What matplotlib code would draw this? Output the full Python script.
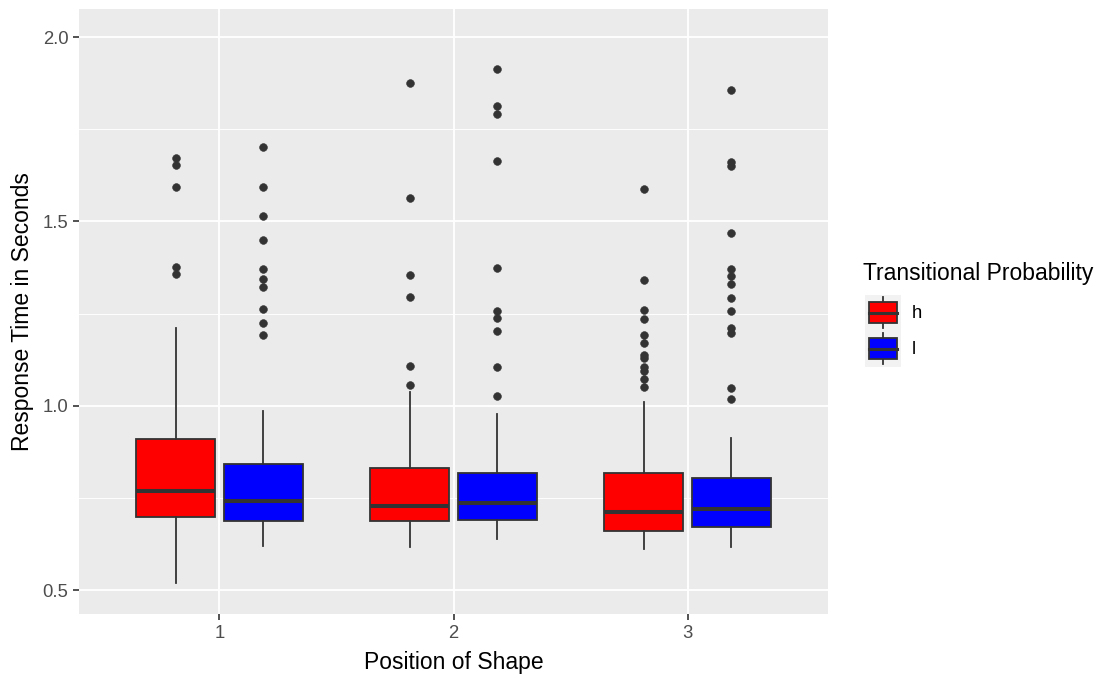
import matplotlib
matplotlib.use("Agg")
import matplotlib.pyplot as plt
from matplotlib.patches import Rectangle, Patch
from matplotlib.lines import Line2D
from matplotlib.legend_handler import HandlerBase
from matplotlib.ticker import FixedLocator

plt.rcParams['font.family'] = ['Liberation Sans', 'DejaVu Sans']

# ---------------- data ----------------
positions = [1, 2, 3]
x_labels = ["1", "2", "3"]
series = ["h", "l"]
series_colors = ["#FF0000", "#0000FF"]

h_q1 = [0.697, 0.687, 0.660]
h_med = [0.768, 0.728, 0.712]
h_q3 = [0.910, 0.830, 0.818]
h_lo = [0.518, 0.618, 0.610]
h_hi = [1.210, 1.038, 1.011]
h_out = [
    [1.671, 1.653, 1.592, 1.377, 1.356],
    [1.875, 1.563, 1.354, 1.294, 1.109, 1.056],
    [1.588, 1.340, 1.259, 1.236, 1.192, 1.170, 1.138, 1.130, 1.105, 1.095, 1.073, 1.052],
]

l_q1 = [0.688, 0.691, 0.672]
l_med = [0.742, 0.737, 0.720]
l_q3 = [0.841, 0.817, 0.804]
l_lo = [0.619, 0.639, 0.618]
l_hi = [0.986, 0.978, 0.913]
l_out = [
    [1.701, 1.592, 1.514, 1.449, 1.372, 1.344, 1.322, 1.261, 1.223, 1.192],
    [1.914, 1.814, 1.791, 1.663, 1.373, 1.257, 1.238, 1.203, 1.105, 1.027],
    [1.857, 1.662, 1.651, 1.469, 1.372, 1.353, 1.331, 1.292, 1.256, 1.211, 1.198, 1.048, 1.017],
]

y_ticks = [0.5, 1.0, 1.5, 2.0]
y_tick_labels = ["0.5", "1.0", "1.5", "2.0"]
y_minor = [0.75, 1.25, 1.75]

x_title = "Position of Shape"
y_title = "Response Time in Seconds"
legend_title = "Transitional Probability"

# ---------------- styling ----------------
W, H = 1113, 679
DARK = "#333333"
fig = plt.figure(figsize=(W / 100, H / 100), dpi=100)
ax = fig.add_axes([79 / W, 1 - 614 / H, (828 - 79) / W, (614 - 9) / H])
ax.set_facecolor("#EBEBEB")
for s in ax.spines.values():
    s.set_visible(False)

ax.set_xlim(0.4, 3.6)
ax.set_ylim(0.435, 2.076)

# grid
ax.set_axisbelow(True)
ax.yaxis.set_major_locator(FixedLocator(y_ticks))
ax.yaxis.set_minor_locator(FixedLocator(y_minor))
ax.set_yticklabels(y_tick_labels)
ax.set_xticks(positions)
ax.set_xticklabels(x_labels)
ax.grid(which="major", color="white", linewidth=1.3)
ax.grid(which="minor", axis="y", color="white", linewidth=0.65)
ax.tick_params(axis="both", which="major", length=4, width=1.2, color=DARK,
               labelcolor="#4D4D4D", labelsize=13.3)
ax.tick_params(axis="x", pad=4.0)
ax.tick_params(axis="y", pad=3.5)
ax.tick_params(which="minor", length=0)

box_w = 0.3375
offsets = [-0.1875, 0.1875]
all_stats = [
    (h_q1, h_med, h_q3, h_lo, h_hi, h_out),
    (l_q1, l_med, l_q3, l_lo, l_hi, l_out),
]
for si, (q1, med, q3, lo, hi, out) in enumerate(all_stats):
    stats = []
    for i in range(len(positions)):
        stats.append(dict(med=med[i], q1=q1[i], q3=q3[i], whislo=lo[i],
                          whishi=hi[i], fliers=out[i]))
    pos = [p + offsets[si] for p in positions]
    ax.bxp(stats, positions=pos, widths=box_w, patch_artist=True,
           showcaps=False, manage_ticks=False,
           boxprops=dict(facecolor=series_colors[si], edgecolor=DARK, linewidth=1.3),
           medianprops=dict(color=DARK, linewidth=2.9, solid_capstyle="butt"),
           whiskerprops=dict(color=DARK, linewidth=1.3),
           flierprops=dict(marker="o", markerfacecolor=DARK, markeredgecolor=DARK,
                           markersize=5.6, markeredgewidth=0.4, linestyle="none"))

# axis titles
ax.set_xlabel(x_title, fontsize=16.5, color="black")
ax.xaxis.set_label_coords(0.5, (614 - 663) / 605)
ax.xaxis.label.set_va("center")
ax.set_ylabel(y_title, fontsize=16.5, color="black")
ax.yaxis.set_label_coords((23 - 79) / 749, 0.5)
ax.yaxis.label.set_va("center")


# legend
class BoxKey(HandlerBase):
    def create_artists(self, legend, orig_handle, xdescent, ydescent,
                       width, height, fontsize, trans):
        x0, y0 = -xdescent, -ydescent
        cx, cy = x0 + width / 2, y0 + height / 2
        bw, bh = width * 0.8, height * 0.57
        bg = Rectangle((x0, y0), width, height, facecolor="#F2F2F2",
                       edgecolor="none", transform=trans)
        wl = Line2D([cx, cx], [y0 + height * 0.06, y0 + height * 0.94],
                    color=DARK, lw=1.3, transform=trans)
        box = Rectangle((cx - bw / 2, cy - bh / 2), bw, bh,
                        facecolor=orig_handle.get_facecolor(), edgecolor=DARK,
                        lw=1.3, transform=trans)
        md = Line2D([cx - bw / 2, cx + bw / 2], [cy, cy], color=DARK, lw=2.2,
                    transform=trans)
        return [bg, wl, box, md]


handles = [Patch(facecolor=c) for c in series_colors]
leg_fs = 13.3
key_pt = 36 * 0.72
fs_px = leg_fs * 100 / 72
hh = (key_pt / leg_fs - 0.245) / 0.65
leg = fig.legend(handles, series, handler_map={Patch: BoxKey()},
                 loc="upper left", bbox_to_anchor=(865 / W, 1 - 294.5 / H),
                 bbox_transform=fig.transFigure, frameon=False, borderpad=0,
                 borderaxespad=0, labelspacing=0, fontsize=leg_fs,
                 handlelength=36 / fs_px, handleheight=hh,
                 handletextpad=0.6, labelcolor="black")
fig.text(863 / W, 1 - 280 / H, legend_title, fontsize=16.5, color="black",
         ha="left", va="baseline")

fig.savefig("out.png", dpi=100, facecolor="white")
